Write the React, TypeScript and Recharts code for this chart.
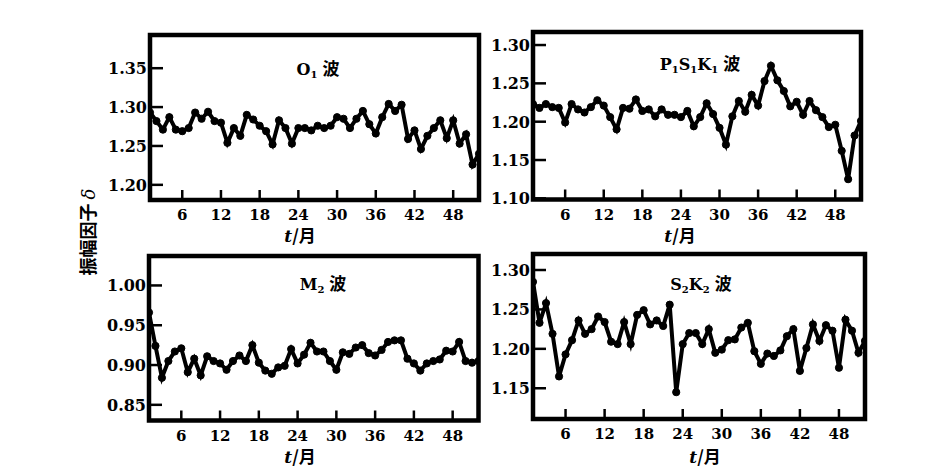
import React from 'react';
import { LineChart, Line, XAxis, YAxis, ReferenceArea } from 'recharts';

const months = [
  1, 2, 3, 4, 5, 6, 7, 8, 9, 10, 11, 12, 13, 14, 15, 16, 17, 18, 19, 20, 21, 22, 23, 24, 25, 26,
  27, 28, 29, 30, 31, 32, 33, 34, 35, 36, 37, 38, 39, 40, 41, 42, 43, 44, 45, 46, 47, 48, 49, 50, 51, 52,
];

const o1Values = [
  1.293, 1.282, 1.271, 1.287, 1.271, 1.269, 1.273, 1.293, 1.285, 1.294, 1.282, 1.28, 1.254,
  1.273, 1.263, 1.29, 1.284, 1.276, 1.269, 1.252, 1.283, 1.273, 1.253, 1.273, 1.273, 1.27,
  1.276, 1.273, 1.276, 1.287, 1.285, 1.273, 1.285, 1.295, 1.278, 1.266, 1.287, 1.304, 1.295,
  1.303, 1.259, 1.27, 1.246, 1.263, 1.273, 1.283, 1.26, 1.283, 1.253, 1.265, 1.226, 1.24,
];

const p1s1k1Values = [
  1.223, 1.218, 1.223, 1.219, 1.218, 1.199, 1.223, 1.216, 1.212, 1.219, 1.228, 1.221, 1.206,
  1.19, 1.218, 1.217, 1.229, 1.214, 1.216, 1.207, 1.216, 1.209, 1.209, 1.206, 1.214, 1.194,
  1.206, 1.224, 1.21, 1.192, 1.17, 1.207, 1.227, 1.213, 1.235, 1.221, 1.253, 1.273, 1.254,
  1.24, 1.22, 1.226, 1.209, 1.227, 1.215, 1.206, 1.193, 1.196, 1.162, 1.125, 1.182, 1.201,
];

const m2Values = [
  0.966, 0.924, 0.884, 0.905, 0.917, 0.921, 0.891, 0.908, 0.887, 0.911, 0.905, 0.902, 0.894,
  0.905, 0.912, 0.905, 0.925, 0.903, 0.893, 0.889, 0.897, 0.899, 0.92, 0.902, 0.913, 0.928,
  0.917, 0.917, 0.905, 0.894, 0.916, 0.914, 0.922, 0.925, 0.915, 0.912, 0.919, 0.929, 0.931,
  0.931, 0.908, 0.902, 0.893, 0.902, 0.905, 0.907, 0.918, 0.917, 0.929, 0.905, 0.903, 0.905,
];

const s2k2Values = [
  1.285, 1.233, 1.258, 1.219, 1.165, 1.193, 1.211, 1.236, 1.219, 1.225, 1.241, 1.234, 1.209,
  1.206, 1.234, 1.206, 1.243, 1.249, 1.231, 1.236, 1.229, 1.256, 1.145, 1.206, 1.22, 1.22,
  1.206, 1.225, 1.195, 1.199, 1.211, 1.212, 1.227, 1.233, 1.197, 1.181, 1.194, 1.191, 1.198,
  1.216, 1.225, 1.172, 1.201, 1.231, 1.21, 1.23, 1.223, 1.176, 1.237, 1.223, 1.195, 1.21,
];

const xTicks = [6, 12, 18, 24, 30, 36, 42, 48];
const o1Ticks = [1.2, 1.25, 1.3, 1.35];
const p1s1k1Ticks = [1.1, 1.15, 1.2, 1.25, 1.3];
const m2Ticks = [0.85, 0.9, 0.95, 1.0];
const s2k2Ticks = [1.15, 1.2, 1.25, 1.3];

const NUM_FONT = '"DejaVu Serif", "Liberation Serif", serif';
const CJK_FONT = '"Noto Sans CJK SC", "Noto Sans", sans-serif';

const XTick = (props: any) => {
  const { x, y, payload } = props;
  return (
    <g>
      <line x1={x} y1={y} x2={x} y2={y - 10} stroke="#000" strokeWidth={2.5} />
      <text x={x} y={y + 20} textAnchor="middle" fontFamily={NUM_FONT} fontWeight="bold" fontSize={15} fill="#000">
        {payload.value}
      </text>
    </g>
  );
};

const YTick = (props: any) => {
  const { x, y, payload } = props;
  return (
    <g>
      <line x1={x} y1={y} x2={x + 13} y2={y} stroke="#000" strokeWidth={2.5} />
      <text x={x - 3} y={y + 6} textAnchor="end" fontFamily={NUM_FONT} fontWeight="bold" fontSize={16} fill="#000">
        {Number(payload.value).toFixed(2)}
      </text>
    </g>
  );
};

type Box = { l: number; r: number; t: number; b: number };

function Panel({ values, yDomain, yTicks, box }: { values: number[]; yDomain: [number, number]; yTicks: number[]; box: Box }) {
  const data = months.map((m, i) => ({ m, v: values[i] }));
  const W = box.r - box.l;
  const H = box.b - box.t;
  return (
    <div style={{ position: 'absolute', left: box.l - 70, top: box.t - 10 }}>
      <LineChart width={W + 80} height={H + 70} data={data} margin={{ top: 10, right: 10, bottom: 0, left: 0 }}>
        <XAxis
          dataKey="m"
          type="number"
          domain={[1, 52]}
          ticks={xTicks}
          interval={0}
          tickSize={0}
          tickMargin={0}
          axisLine={false}
          tickLine={false}
          tick={(p: any) => <XTick {...p} />}
          height={60}
          allowDataOverflow
        />
        <YAxis
          type="number"
          domain={yDomain}
          ticks={yTicks}
          interval={0}
          tickSize={0}
          tickMargin={0}
          axisLine={false}
          tickLine={false}
          tick={(p: any) => <YTick {...p} />}
          width={70}
          allowDataOverflow
        />
        <ReferenceArea
          x1={1}
          x2={52}
          y1={yDomain[0]}
          y2={yDomain[1]}
          fill="none"
          fillOpacity={0}
          stroke="#000"
          strokeWidth={4.5}
          strokeOpacity={1}
          ifOverflow="visible"
        />
        <Line
          dataKey="v"
          type="linear"
          stroke="#000"
          strokeWidth={4}
          dot={{ r: 3.6, fill: '#000', stroke: '#000', strokeWidth: 1 }}
          isAnimationActive={false}
        />
      </LineChart>
    </div>
  );
}

const Title = ({ x, y, children }: { x: number; y: number; children: React.ReactNode }) => (
  <div
    style={{
      position: 'absolute',
      left: x,
      top: y,
      transform: 'translate(-50%, -50%)',
      whiteSpace: 'nowrap',
      fontWeight: 'bold',
      fontSize: 16,
      fontFamily: NUM_FONT,
      color: '#000',
      lineHeight: 1,
    }}
  >
    {children}
  </div>
);

const Sub = ({ children }: { children: React.ReactNode }) => (
  <span style={{ fontSize: 10, verticalAlign: -3 }}>{children}</span>
);

const Bo = () => <span style={{ fontFamily: CJK_FONT, fontSize: 17, marginLeft: 5 }}>波</span>;

const XLabel = ({ x, y }: { x: number; y: number }) => (
  <div
    style={{
      position: 'absolute',
      left: x,
      top: y,
      transform: 'translate(-50%, -50%)',
      whiteSpace: 'nowrap',
      fontWeight: 'bold',
      fontSize: 17,
      color: '#000',
      lineHeight: 1,
    }}
  >
    <span style={{ fontFamily: NUM_FONT, fontStyle: 'italic' }}>t</span>
    <span style={{ fontFamily: CJK_FONT }}>/月</span>
  </div>
);

export default function App() {
  return (
    <div style={{ position: 'absolute', left: 0, top: 0, width: 949, height: 471, background: '#fff', overflow: 'hidden' }}>
      <Panel values={o1Values} yDomain={[1.1805, 1.3927]} yTicks={o1Ticks} box={{ l: 150, r: 479, t: 34.5, b: 199.5 }} />
      <Panel values={p1s1k1Values} yDomain={[1.0985, 1.317]} yTicks={p1s1k1Ticks} box={{ l: 532.5, r: 860.5, t: 32, b: 199.5 }} />
      <Panel values={m2Values} yDomain={[0.8303, 1.037]} yTicks={m2Ticks} box={{ l: 148.5, r: 478, t: 255.5, b: 420 }} />
      <Panel values={s2k2Values} yDomain={[1.111, 1.3203]} yTicks={s2k2Ticks} box={{ l: 533, r: 865, t: 254, b: 419 }} />

      <Title x={318} y={69}>
        O<Sub>1</Sub>
        <Bo />
      </Title>
      <Title x={700} y={64}>
        P<Sub>1</Sub>S<Sub>1</Sub>K<Sub>1</Sub>
        <Bo />
      </Title>
      <Title x={323} y={284}>
        M<Sub>2</Sub>
        <Bo />
      </Title>
      <Title x={701} y={284}>
        S<Sub>2</Sub>K<Sub>2</Sub>
        <Bo />
      </Title>

      <XLabel x={300} y={235} />
      <XLabel x={680} y={235} />
      <XLabel x={300} y={456} />
      <XLabel x={705} y={456} />

      <div
        style={{
          position: 'absolute',
          left: 88,
          top: 232,
          transform: 'translate(-50%, -50%) rotate(-90deg)',
          whiteSpace: 'nowrap',
          fontFamily: CJK_FONT,
          fontWeight: 'bold',
          fontSize: 18,
          color: '#000',
          lineHeight: 1,
        }}
      >
        振幅因子 <span style={{ fontFamily: NUM_FONT, fontStyle: 'italic', fontWeight: 'normal' }}>δ</span>
      </div>
    </div>
  );
}
